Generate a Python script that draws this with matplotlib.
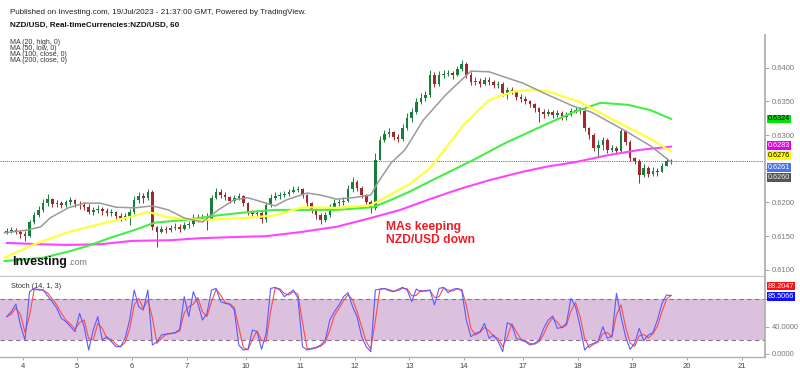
import numpy as np
import pandas as pd
import matplotlib
matplotlib.use("Agg")
import matplotlib.pyplot as plt

plt.rcParams['font.family'] = ['Liberation Sans', 'DejaVu Sans']

# ---------------- data (2-hour candles, x in hourly bars from 4 Jul 00:00) ----------------
bar_start = -7
bar_step = 2
open0 = 0.6156
close = [.6158, .6159, .6156, .6153, .6150, .6171, .6181, .6189, .6199, .6205,
         .6198, .6199, .6196, .6201, .6204, .6198, .6196, .6193, .6186, .6189,
         .6190, .6187, .6184, .6186, .6180, .6177, .6180, .6186, .6204, .6210,
         .6207, .6216, .6164, .6156, .6161, .6159, .6162, .6164, .6161, .6167,
         .6168, .6177, .6175, .6178, .6175, .6207, .6216, .6211, .6208, .6202,
         .6207, .6210, .6199, .6186, .6183, .6184, .6175, .6196, .6207, .6210,
         .6211, .6213, .6216, .6219, .6220, .6211, .6199, .6189, .6181, .6174,
         .6181, .6193, .6199, .6201, .6202, .6220, .6230, .6221, .6211, .6201,
         .6192, .6263, .6293, .6302, .6305, .6297, .6294, .6311, .6325, .6334,
         .6349, .6355, .6360, .6389, .6376, .6389, .6391, .6392, .6389, .6398,
         .6405, .6389, .6379, .6380, .6376, .6382, .6379, .6374, .6376, .6362,
         .6367, .6365, .6357, .6354, .6351, .6346, .6340, .6334, .6331, .6334,
         .6330, .6333, .6327, .6330, .6336, .6337, .6336, .6311, .6300, .6281,
         .6285, .6293, .6278, .6281, .6276, .6306, .6290, .6266, .6262, .6241,
         .6251, .6242, .6247, .6245, .6254, .6262, .6261]
high = [.6162, .6164, .6162, .6159, .6158, .6174, .6186, .6195, .6205, .6213,
        .6207, .6204, .6202, .6204, .6208, .6205, .6202, .6201, .6198, .6193,
        .6196, .6193, .6192, .6190, .6187, .6184, .6184, .6190, .6210, .6216,
        .6214, .6220, .6219, .6165, .6165, .6165, .6167, .6170, .6168, .6171,
        .6173, .6183, .6183, .6183, .6184, .6211, .6221, .6220, .6216, .6210,
        .6211, .6214, .6211, .6201, .6189, .6189, .6187, .6201, .6213, .6216,
        .6216, .6217, .6220, .6224, .6224, .6221, .6213, .6201, .6192, .6184,
        .6186, .6198, .6205, .6205, .6208, .6226, .6238, .6233, .6224, .6213,
        .6204, .6273, .6299, .6308, .6311, .6306, .6302, .6316, .6333, .6340,
        .6355, .6362, .6365, .6397, .6394, .6395, .6397, .6397, .6395, .6403,
        .6411, .6408, .6394, .6386, .6385, .6386, .6386, .6382, .6380, .6379,
        .6371, .6371, .6367, .6361, .6358, .6352, .6348, .6342, .6339, .6339,
        .6337, .6337, .6336, .6334, .6340, .6342, .6342, .6339, .6312, .6303,
        .6293, .6297, .6296, .6285, .6284, .6311, .6308, .6293, .6268, .6265,
        .6257, .6254, .6253, .6251, .6259, .6266, .6265]
low = [.6153, .6155, .6153, .6147, .6143, .6149, .6168, .6178, .6186, .6195,
       .6193, .6193, .6192, .6193, .6196, .6193, .6190, .6189, .6183, .6181,
       .6184, .6181, .6180, .6180, .6175, .6173, .6174, .6167, .6183, .6199,
       .6199, .6204, .6159, .6134, .6155, .6155, .6156, .6159, .6156, .6159,
       .6162, .6165, .6171, .6173, .6159, .6174, .6205, .6207, .6204, .6199,
       .6199, .6204, .6195, .6181, .6178, .6178, .6170, .6171, .6193, .6204,
       .6205, .6208, .6210, .6214, .6216, .6207, .6195, .6184, .6175, .6168,
       .6171, .6178, .6190, .6195, .6196, .6201, .6216, .6217, .6207, .6196,
       .6184, .6189, .6266, .6290, .6297, .6293, .6290, .6291, .6308, .6319,
       .6331, .6346, .6351, .6357, .6371, .6373, .6385, .6388, .6383, .6388,
       .6395, .6385, .6374, .6374, .6371, .6374, .6374, .6370, .6370, .6358,
       .6354, .6361, .6352, .6349, .6346, .6342, .6334, .6319, .6325, .6328,
       .6325, .6327, .6322, .6322, .6328, .6333, .6331, .6306, .6294, .6276,
       .6268, .6278, .6273, .6275, .6272, .6275, .6285, .6262, .6257, .6229,
       .6238, .6238, .6239, .6239, .6248, .6256, .6257]

ma20_bars = [-8, 2, 8, 12, 20, 27, 34, 41, 49, 57, 64, 71, 79, 86, 93, 99, 105, 111, 116, 125,
             131, 138, 145, 153, 156, 162, 168, 176, 186, 197, 205, 212, 220, 230, 242, 250, 264, 276, 285]
ma20_vals = [.6155, .6159, .6164, .6177, .6192, .6199, .6199, .6193, .6192, .6195, .6189, .6177, .6171,
             .6189, .6204, .6207, .6201, .6195, .6204, .6214, .6211, .6205, .6207, .6211, .6229, .6259,
             .6278, .6322, .6360, .6395, .6394, .6386, .6377, .6361, .6343, .6334, .6308, .6284, .6260]
ma50_bars = [-8, 5, 20, 34, 49, 55, 64, 78, 98, 111, 123, 138, 153, 159, 170, 179, 183, 194, 205, 215,
             224, 231, 245, 260, 275, 285]
ma50_vals = [.6118, .6138, .6156, .6168, .6180, .6186, .6178, .6174, .6177, .6181, .6193, .6192, .6196,
             .6207, .6227, .6251, .6268, .6316, .6352, .6364, .6368, .6365, .6349, .6322, .6296, .6276]
ma100_bars = [-8, 9, 20, 30, 38, 49, 58, 71, 86, 100, 111, 138, 154, 162, 170, 180, 198, 212, 230, 242,
              254, 266, 276, 285]
ma100_vals = [.6113, .6118, .6127, .6137, .6147, .6159, .6170, .6174, .6181, .6186, .6189, .6189, .6193,
              .6204, .6216, .6233, .6263, .6288, .6316, .6334, .6348, .6345, .6337, .6324]
ma200_bars = [-7, 8, 20, 34, 48, 65, 78, 96, 107, 122, 138, 153, 166, 179, 192, 205, 219, 230, 243, 257,
              271, 285]
ma200_vals = [.6140, .6138, .6137, .6138, .6143, .6144, .6147, .6149, .6150, .6156, .6164, .6177, .6189,
              .6205, .6220, .6233, .6245, .6253, .6260, .6270, .6278, .6283]
last_price = 0.6261

stoch_k = [54.6, 62, 73, 42.4, 20.5, 91.2, 96, 93.6, 93.6, 84.8,
           76.6, 66.8, 52.2, 47.3, 40, 32.7, 59.5, 40, 5.8, 35.1,
           54.6, 20.5, 25.3, 18, 10.7, 10.7, 22.9, 49.7, 93.6, 69.2,
           64.4, 93.6, 13.1, 18, 27.8, 29.2, 30.2, 31.2, 36.1, 83.9,
           54.6, 91.2, 74.1, 49.7, 59.5, 93.6, 96, 76.6, 74.1, 72.6,
           64.4, 13.1, 5.8, 6.8, 35.1, 32.7, 6.8, 30.2, 96, 97.5,
           93.6, 83.9, 88.8, 93.6, 81.4, 10.7, 5.8, 8.3, 9.7, 13.1,
           20.5, 49.7, 61.9, 71.7, 83.9, 89.7, 69.2, 54.6, 25.3, 10.7,
           3.4, 93.6, 95.1, 96, 92.7, 91.2, 94.6, 97.5, 93.6, 76.6,
           95.1, 91.2, 92.7, 93.6, 71.7, 96, 97.5, 89.7, 94.6, 96,
           92.7, 49.7, 25.3, 30.2, 32.7, 44.9, 22.9, 27.8, 18, 3.4,
           45.8, 42.4, 22.9, 20.5, 18, 13.1, 15.5, 20.5, 37.5, 49.7,
           55.6, 37.5, 39, 44.9, 81.4, 69.2, 40, 5.8, 13.1, 15.5,
           19.5, 40, 22.9, 26.3, 88.8, 54.6, 25.3, 6.8, 15.5, 37.5,
           19.5, 27.8, 31.2, 49.7, 74.1, 86.3, 85.5066]
stoch_last_d = 88.2047

day_labels = ['4', '5', '6', '7', '10', '11', '12', '13', '14', '17', '18', '19', '20', '21']
day_bars = [0, 24, 48, 72, 98, 122, 146, 170, 194, 220, 244, 268, 292, 316]

# ---------------- figure ----------------
W, H = 800, 372
fig = plt.figure(figsize=(8, 3.72), dpi=100)
fig.patch.set_facecolor('white')


def fx(px):
    return px / W


def fy(py):
    return 1 - py / H


ax = fig.add_axes([fx(0), fy(277), fx(765), fy(35) - fy(277)])
axs = fig.add_axes([fx(0), fy(357), fx(765), fy(277) - fy(357)])

xlim = ((0 - 22.7) / 2.275, (765 - 22.7) / 2.275)

# candles
n = len(close)
xb = bar_start + bar_step * np.arange(n)
c = np.array(close)
o = np.r_[open0, c[:-1]]
hi = np.maximum(np.array(high), np.maximum(o, c))
lo = np.minimum(np.array(low), np.minimum(o, c))
up = c >= o
col = np.where(up, '#16803a', '#a3282b')
ax.vlines(xb, lo, hi, colors=col, lw=0.7, zorder=2)
body = np.maximum(np.abs(c - o), 0.00006)
ax.bar(xb, body, bottom=np.minimum(o, c), width=1.15, color=col, linewidth=0, zorder=3)

# moving averages
ax.plot(ma200_bars, ma200_vals, color='#ff44ff', lw=1.5, zorder=4, solid_joinstyle='round')
ax.plot(ma100_bars, ma100_vals, color='#44ee44', lw=1.5, zorder=4, solid_joinstyle='round')
ax.plot(ma50_bars, ma50_vals, color='#ffff3c', lw=1.6, zorder=4, solid_joinstyle='round')
ax.plot(ma20_bars, ma20_vals, color='#9a9a9a', lw=1.1, zorder=5, solid_joinstyle='round')

ax.axhline(last_price, color='#3a5fd0', lw=0.7, ls=(0, (1, 1.2)), zorder=1)

ax.set_xlim(*xlim)
ax.set_ylim(0.60894, 0.64486)
ax.yaxis.tick_right()
yt = np.arange(0.6100, 0.64001, 0.005)
ax.set_yticks(yt)
# the 0.6250 label is hidden behind the value boxes in the original
ax.set_yticklabels(['' if abs(v - 0.625) < 1e-6 else f'{v:.4f}' for v in yt])
ax.tick_params(axis='y', length=3, width=0.6, color='#999999', labelsize=5.5,
               labelcolor='#777777', pad=2)
ax.tick_params(axis='x', length=0, labelbottom=False)
for s in ['top', 'left']:
    ax.spines[s].set_visible(False)
ax.spines['right'].set_color('#b0b0b0')
ax.spines['right'].set_linewidth(1.3)
ax.spines['bottom'].set_color('#c4c4c4')
ax.spines['bottom'].set_linewidth(1.6)

# value boxes on the price axis (offset in points to avoid overlap)
boxes = [(ma100_vals[-1], '#00e400', 'black', 0),
         (ma200_vals[-1], '#e600e6', 'white', 0.6),
         (ma50_vals[-1], '#ffff00', 'black', -3.0),
         (last_price, '#4a74e8', 'white', -4.2),
         (ma20_vals[-1], '#555555', '#eeeeee', -11.0)]
for v, fc, tc, dy in boxes:
    ax.annotate(f'{v:.4f}', xy=(1, v), xycoords=('axes fraction', 'data'),
                xytext=(2.0, dy), textcoords='offset points', ha='left', va='center',
                fontsize=5.2, color=tc, annotation_clip=False, zorder=10,
                bbox=dict(boxstyle='square,pad=0.12', fc=fc, ec='none'))

# stochastic
k = pd.Series(stoch_k)
d = k.rolling(2, min_periods=1).mean()
axs.axhspan(20, 80, color='#dcc1df', zorder=0, lw=0)
for lv in (20, 80):
    axs.axhline(lv, color='#8e6f8e', lw=0.8, ls=(0, (4, 3)), zorder=1)
axs.plot(xb, d.values, color='#ff4a4a', lw=0.8, zorder=3)
axs.plot(xb, k.values, color='#5a5aff', lw=0.8, zorder=4)
axs.set_xlim(*xlim)
axs.set_ylim(-4.4, 112.7)
axs.yaxis.tick_right()
axs.set_yticks([0, 40, 80])
# the 80 label is covered by the %K value box in the original
axs.set_yticklabels(['0.0000', '40.0000', ''])
axs.tick_params(axis='y', length=3, width=0.6, color='#999999', labelsize=5.5,
                labelcolor='#777777', pad=2)
axs.set_xticks(day_bars)
axs.set_xticklabels(day_labels)
axs.tick_params(axis='x', length=2.5, width=0.6, color='#999999', labelsize=5.5,
                labelcolor='#444444', pad=2)
for s in ['top', 'left']:
    axs.spines[s].set_visible(False)
axs.spines['right'].set_color('#b0b0b0')
axs.spines['right'].set_linewidth(1.3)
axs.spines['bottom'].set_color('#b0b0b0')
axs.spines['bottom'].set_linewidth(1.0)

for v, fc, dy in [(stoch_last_d, '#ff1010', 5.5), (stoch_k[-1], '#1010ff', -0.5)]:
    axs.annotate(f'{v:.4f}', xy=(1, v), xycoords=('axes fraction', 'data'),
                 xytext=(2.0, dy), textcoords='offset points', ha='left', va='center',
                 fontsize=5.2, color='white', annotation_clip=False, zorder=10,
                 bbox=dict(boxstyle='square,pad=0.12', fc=fc, ec='none'))

# ---------------- texts ----------------
fig.text(fx(10), fy(12), 'Published on Investing.com, 19/Jul/2023 - 21:37:00 GMT, Powered by TradingView.',
         fontsize=5.75, color='#222222', va='center', ha='left')
fig.text(fx(10), fy(25), 'NZD/USD, Real-timeCurrencies:NZD/USD, 60',
         fontsize=5.75, fontweight='bold', color='#111111', va='center', ha='left')
for i, t in enumerate(['MA (20, high, 0)', 'MA (50, low, 0)', 'MA (100, close, 0)', 'MA (200, close, 0)']):
    fig.text(fx(10), fy(42.7 + 6.1 * i), t, fontsize=5.0, color='#333333', va='center', ha='left')

fig.text(fx(11), fy(287), 'Stoch (14, 1, 3)', fontsize=5.3, color='#333333', va='center', ha='left')

fig.text(fx(12), fy(265), 'Investing', fontsize=9.0, fontweight='bold', color='#111111',
         va='baseline', ha='left')
fig.text(fx(68), fy(265), '.com', fontsize=6.3, color='#777777', va='baseline', ha='left')

fig.text(fx(386), fy(221), 'MAs keeping\nNZD/USD down', fontsize=8.7, fontweight='bold',
         color='#ee1c25', va='top', ha='left', linespacing=1.08)

fig.savefig('out.png', dpi=100)
